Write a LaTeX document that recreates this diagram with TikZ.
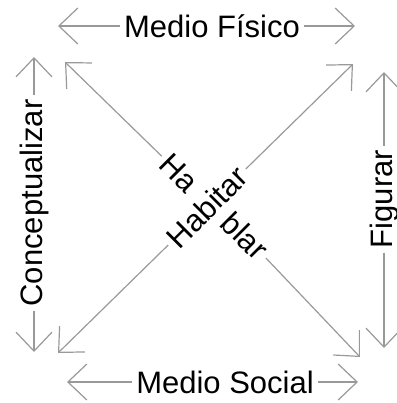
\documentclass[tikz,border=0pt]{standalone}
\usepackage{fontspec}
\setmainfont{Liberation Sans}
\usetikzlibrary{arrows.meta}

\begin{document}
\begin{tikzpicture}[x=0.5pt, y=-0.5pt, font=\fontsize{15.5}{18}\selectfont,
    lbl/.style={inner sep=2pt},
    arr/.style={draw=gray!80, line width=0.6pt, -{Straight Barb[length=9.5pt,width=18pt]}}]
  \useasboundingbox (0,0) rectangle (397,403);
  % outer labels
  \node[lbl] (fisico) at (212,26) {Medio Físico};
  \node[lbl] (social) at (225,382) {Medio Social};
  \node[lbl, rotate=90] (concep) at (34,203) {Conceptualizar};
  \node[lbl, rotate=90] (figurar) at (384,199) {Figurar};
  % labels on the diagonals
  \node[lbl, rotate=-45] (ha) at (179,173) {Ha};
  \node[lbl, rotate=-45] (blar) at (245,236) {blar};
  \node[lbl, rotate=45] (habitar) at (207,207) {Habitar};
  % arrow ends
  \coordinate (fisicoL) at (58,26);
  \coordinate (fisicoR) at (355,26);
  \coordinate (socialL) at (67,382);
  \coordinate (socialR) at (358,382);
  \coordinate (concepT) at (34,57);
  \coordinate (concepB) at (34,352);
  \coordinate (figurarT) at (384,72);
  \coordinate (figurarB) at (384,348);
  \coordinate (tl) at (65,62);
  \coordinate (tr) at (353,64);
  \coordinate (bl) at (58,353);
  \coordinate (br) at (360,357);
  \draw[arr] (fisico) -- (fisicoL);
  \draw[arr] (fisico) -- (fisicoR);
  \draw[arr] (social) -- (socialL);
  \draw[arr] (social) -- (socialR);
  \draw[arr] (concep) -- (concepT);
  \draw[arr] (concep) -- (concepB);
  \draw[arr] (figurar) -- (figurarT);
  \draw[arr] (figurar) -- (figurarB);
  \draw[arr] (ha) -- (tl);
  \draw[arr] (blar) -- (br);
  \draw[arr] (habitar) -- (bl);
  \draw[arr] (habitar) -- (tr);
\end{tikzpicture}
\end{document}
